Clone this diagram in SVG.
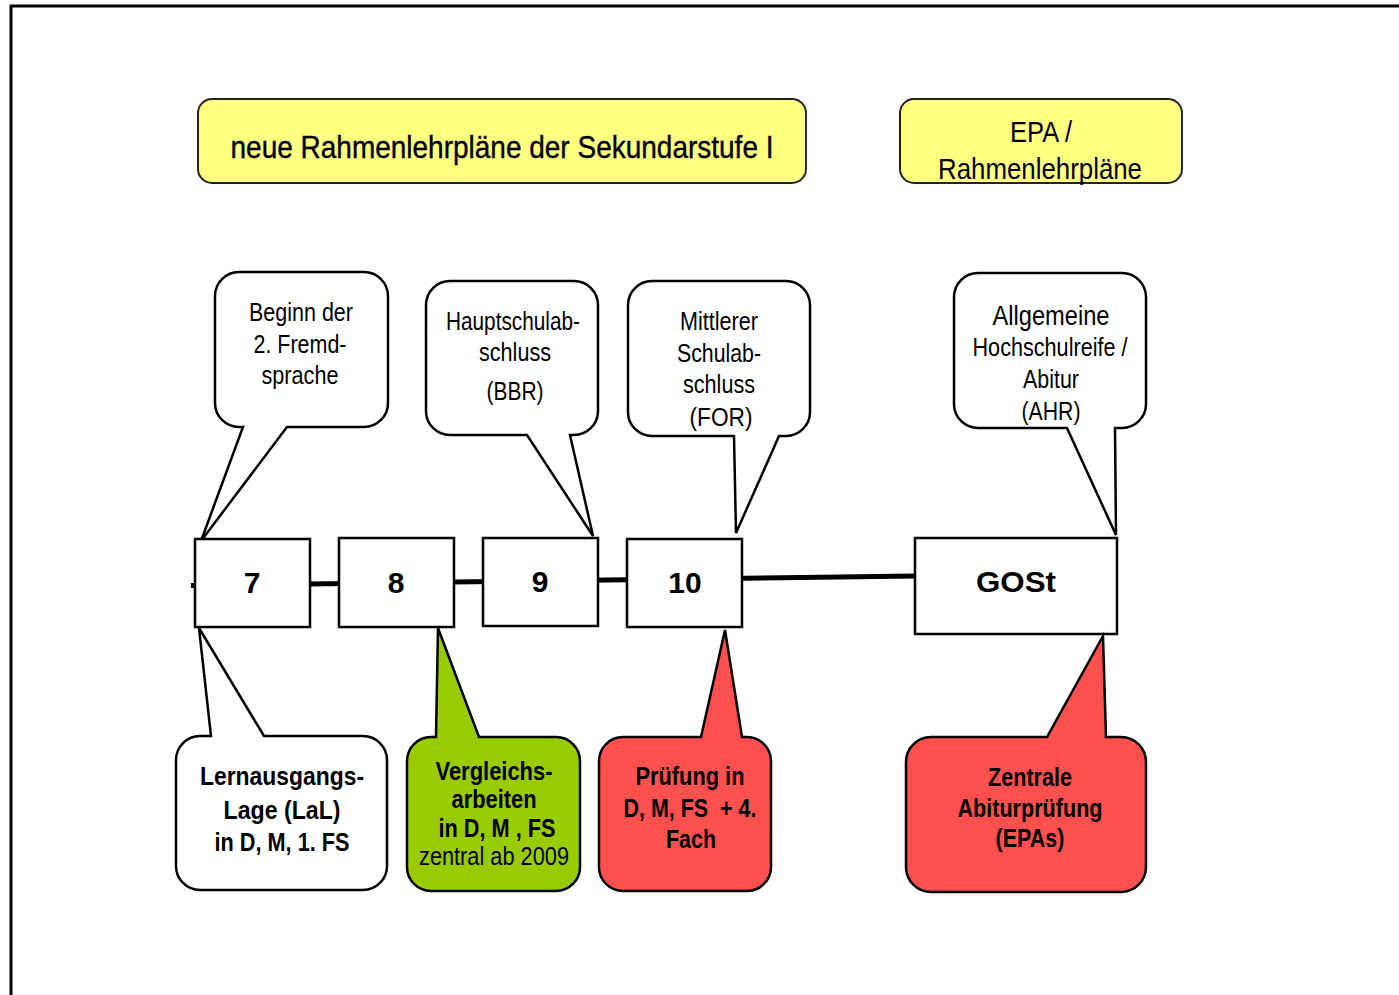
<svg xmlns="http://www.w3.org/2000/svg" width="1399" height="995" viewBox="0 0 1399 995">
<style>
text{font-family:"Liberation Sans",Arial,sans-serif;fill:#000;text-anchor:middle}
.r{font-size:25px}
.b{font-size:25px;font-weight:bold}
.num{font-size:30px;font-weight:bold}
.hdr{fill:#FFFF80;stroke:#222;stroke-width:2}
.co{stroke:#000;stroke-width:2.5;stroke-linejoin:miter}
.w{fill:#fff}.g{fill:#99CC00}.red{fill:#FF5050}
.box{fill:#fff;stroke:#000;stroke-width:2.5}
</style>
<rect x="0" y="0" width="1399" height="995" fill="#fff"/>
<rect x="11" y="6" width="1400" height="1000" fill="none" stroke="#000" stroke-width="3"/>

<g id="hdr1"><rect class="hdr" x="198" y="99" width="608" height="84" rx="14"/>
<text x="502" y="158" style="font-size:32px;stroke:#000;stroke-width:0.4" textLength="543" lengthAdjust="spacingAndGlyphs">neue Rahmenlehrpläne der Sekundarstufe I</text></g>
<g id="hdr2"><rect class="hdr" x="900" y="99" width="282" height="84" rx="14"/>
<text x="1041" y="142" style="font-size:30px" textLength="62" lengthAdjust="spacingAndGlyphs">EPA /</text>
<text x="1040" y="179" style="font-size:30px" textLength="204" lengthAdjust="spacingAndGlyphs">Rahmenlehrpläne</text></g>

<g id="connectors"><line x1="191" y1="585.5" x2="916" y2="576" stroke="#000" stroke-width="5"/></g>

<g id="c-beginn"><path class="co w" d="M239,272 H364 A24,24 0 0 1 388,296 V403 A24,24 0 0 1 364,427 H287 L201,541 L243,427 H239 A24,24 0 0 1 215,403 V296 A24,24 0 0 1 239,272 Z"/>
<text class="r" x="301" y="321" textLength="104" lengthAdjust="spacingAndGlyphs">Beginn der</text>
<text class="r" x="300" y="353" textLength="93" lengthAdjust="spacingAndGlyphs">2. Fremd-</text>
<text class="r" x="300" y="384" textLength="77" lengthAdjust="spacingAndGlyphs">sprache</text></g>

<g id="c-haupt"><path class="co w" d="M450,281 H574 A24,24 0 0 1 598,305 V411 A24,24 0 0 1 574,435 H570 L593,536 L527,435 H450 A24,24 0 0 1 426,411 V305 A24,24 0 0 1 450,281 Z"/>
<text class="r" x="513" y="330" textLength="134" lengthAdjust="spacingAndGlyphs">Hauptschulab-</text>
<text class="r" x="515" y="361" textLength="72" lengthAdjust="spacingAndGlyphs">schluss</text>
<text class="r" x="515" y="400" textLength="57" lengthAdjust="spacingAndGlyphs">(BBR)</text></g>

<g id="c-mittl"><path class="co w" d="M652,281 H786 A24,24 0 0 1 810,305 V412 A24,24 0 0 1 786,436 H779 L736,533 L734,436 H652 A24,24 0 0 1 628,412 V305 A24,24 0 0 1 652,281 Z"/>
<text class="r" x="719" y="330" textLength="78" lengthAdjust="spacingAndGlyphs">Mittlerer</text>
<text class="r" x="719" y="362" textLength="84" lengthAdjust="spacingAndGlyphs">Schulab-</text>
<text class="r" x="719" y="393" textLength="72" lengthAdjust="spacingAndGlyphs">schluss</text>
<text class="r" x="721" y="426" textLength="63" lengthAdjust="spacingAndGlyphs">(FOR)</text></g>

<g id="c-abi"><path class="co w" d="M978,273 H1122 A24,24 0 0 1 1146,297 V404 A24,24 0 0 1 1122,428 H1115 L1116,535 L1067,428 H978 A24,24 0 0 1 954,404 V297 A24,24 0 0 1 978,273 Z"/>
<text x="1051" y="325" style="font-size:27px" textLength="117" lengthAdjust="spacingAndGlyphs">Allgemeine</text>
<text class="r" x="1050" y="356" textLength="155" lengthAdjust="spacingAndGlyphs">Hochschulreife /</text>
<text class="r" x="1051" y="388" textLength="56" lengthAdjust="spacingAndGlyphs">Abitur</text>
<text class="r" x="1051" y="420" textLength="59" lengthAdjust="spacingAndGlyphs">(AHR)</text></g>

<g id="n7"><rect class="box" x="195" y="539" width="115" height="88"/><text class="num" x="252" y="593">7</text></g>
<g id="n8"><rect class="box" x="339" y="538" width="115" height="89"/><text class="num" x="396" y="593">8</text></g>
<g id="n9"><rect class="box" x="483" y="538" width="115" height="88"/><text class="num" x="540" y="592">9</text></g>
<g id="n10"><rect class="box" x="627" y="539" width="115" height="88"/><text class="num" x="685" y="593">10</text></g>
<g id="ngost"><rect class="box" x="915" y="538" width="202" height="96"/><text class="num" x="1016" y="592" textLength="80" lengthAdjust="spacingAndGlyphs">GOSt</text></g>

<g id="c-lal"><path class="co w" d="M200,736 H211 L199,628 L264,736 H363 A24,24 0 0 1 387,760 V866 A24,24 0 0 1 363,890 H200 A24,24 0 0 1 176,866 V760 A24,24 0 0 1 200,736 Z"/>
<text class="b" x="282" y="785" textLength="164" lengthAdjust="spacingAndGlyphs">Lernausgangs-</text>
<text class="b" x="282" y="819" textLength="117" lengthAdjust="spacingAndGlyphs">Lage (LaL)</text>
<text class="b" x="282" y="851" textLength="135" lengthAdjust="spacingAndGlyphs">in D, M, 1. FS</text></g>

<g id="c-verg"><path class="co g" d="M431,737 H436 L438,628 L479,737 H556 A24,24 0 0 1 580,761 V867 A24,24 0 0 1 556,891 H431 A24,24 0 0 1 407,867 V761 A24,24 0 0 1 431,737 Z"/>
<text class="b" x="494" y="780" textLength="117" lengthAdjust="spacingAndGlyphs">Vergleichs-</text>
<text class="b" x="494" y="808" textLength="85" lengthAdjust="spacingAndGlyphs">arbeiten</text>
<text class="b" x="497" y="837" textLength="117" lengthAdjust="spacingAndGlyphs">in D, M , FS</text>
<text class="r" x="494" y="865" textLength="150" lengthAdjust="spacingAndGlyphs">zentral ab 2009</text></g>

<g id="c-pruef"><path class="co red" d="M623,737 H701 L725,630 L742,737 H747 A24,24 0 0 1 771,761 V867 A24,24 0 0 1 747,891 H623 A24,24 0 0 1 599,867 V761 A24,24 0 0 1 623,737 Z"/>
<text class="b" x="690" y="785" textLength="109" lengthAdjust="spacingAndGlyphs">Prüfung in</text>
<text class="b" x="690" y="817" textLength="133" lengthAdjust="spacingAndGlyphs" style="white-space:pre">D, M, FS  + 4.</text>
<text class="b" x="691" y="848" textLength="50" lengthAdjust="spacingAndGlyphs">Fach</text></g>

<g id="c-zentral"><path class="co red" d="M931,737 H1047 L1103,636 L1106,737 H1121 A25,25 0 0 1 1146,762 V867 A25,25 0 0 1 1121,892 H931 A25,25 0 0 1 906,867 V762 A25,25 0 0 1 931,737 Z"/>
<text class="b" x="1030" y="786" textLength="84" lengthAdjust="spacingAndGlyphs">Zentrale</text>
<text class="b" x="1030" y="817" textLength="145" lengthAdjust="spacingAndGlyphs">Abiturprüfung</text>
<text class="b" x="1030" y="847" textLength="69" lengthAdjust="spacingAndGlyphs">(EPAs)</text></g>
</svg>
